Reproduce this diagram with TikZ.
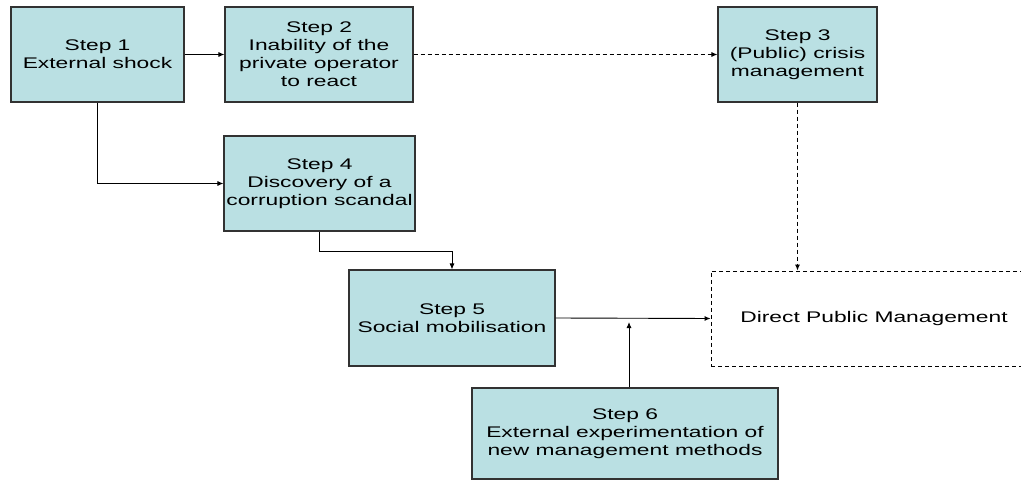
\documentclass[tikz,border=0pt]{standalone}
\usepackage{fontspec}
\setmainfont{Liberation Sans}[FakeStretch=1.48]
\usetikzlibrary{arrows.meta,calc}
\definecolor{boxfill}{RGB}{186,224,227}
\definecolor{boxline}{RGB}{50,50,50}
\tikzset{
  stepbox/.style={draw=boxline, line width=1.1pt, fill=boxfill, inner sep=0pt, align=center,
    font=\fontsize{15.4}{18}\selectfont},
  endbox/.style={draw=black, line width=0.9pt, dash pattern=on 4pt off 3pt, inner sep=0pt, align=center,
    font=\fontsize{15.4}{18}\selectfont},
  conn/.style={draw=black, line width=0.9pt, -{Latex[length=6pt,width=5pt]}},
  dconn/.style={conn, dash pattern=on 4pt off 3pt}
}
\begin{document}
\begin{tikzpicture}[x=1pt,y=-1pt]
\useasboundingbox (0,0) rectangle (1021,484);
\node[stepbox, minimum width=173pt, minimum height=95pt] (s1) at (97.5,54.5) {Step 1\\External shock};
\node[stepbox, minimum width=188pt, minimum height=95pt] (s2) at (319,54.5) {Step 2\\Inability of the\\private operator\\to react};
\node[stepbox, minimum width=159pt, minimum height=95pt] (s3) at (797.5,54.5) {Step 3\\(Public) crisis\\management};
\node[stepbox, minimum width=191pt, minimum height=95pt] (s4) at (319.5,183.5) {Step 4\\Discovery of a\\corruption scandal};
\node[stepbox, minimum width=206pt, minimum height=96pt] (s5) at (452,318) {Step 5\\Social mobilisation};
\node[stepbox, minimum width=306pt, minimum height=91pt] (s6) at (625,433.5) {Step 6\\External experimentation of\\new management methods};
\node[endbox, minimum width=326pt, minimum height=95pt] (dpm) at (874,318.5) {Direct Public Management};
\coordinate (mt) at (629,322);

\draw[conn] (s1.east) -- (s2.west);
\draw[dconn] (s2.east) -- (s3.west);
\draw[dconn] (s3.south) -- (s3.south |- dpm.north);
\draw[conn] (s1.south) |- (s4.west);
\draw[conn] (s4.south) -- ++(0,20) -| (s5.north);
\draw[conn] (s5.east) -- (dpm.west);
\draw[conn] (s6.north -| mt) -- (mt);
\end{tikzpicture}
\end{document}
